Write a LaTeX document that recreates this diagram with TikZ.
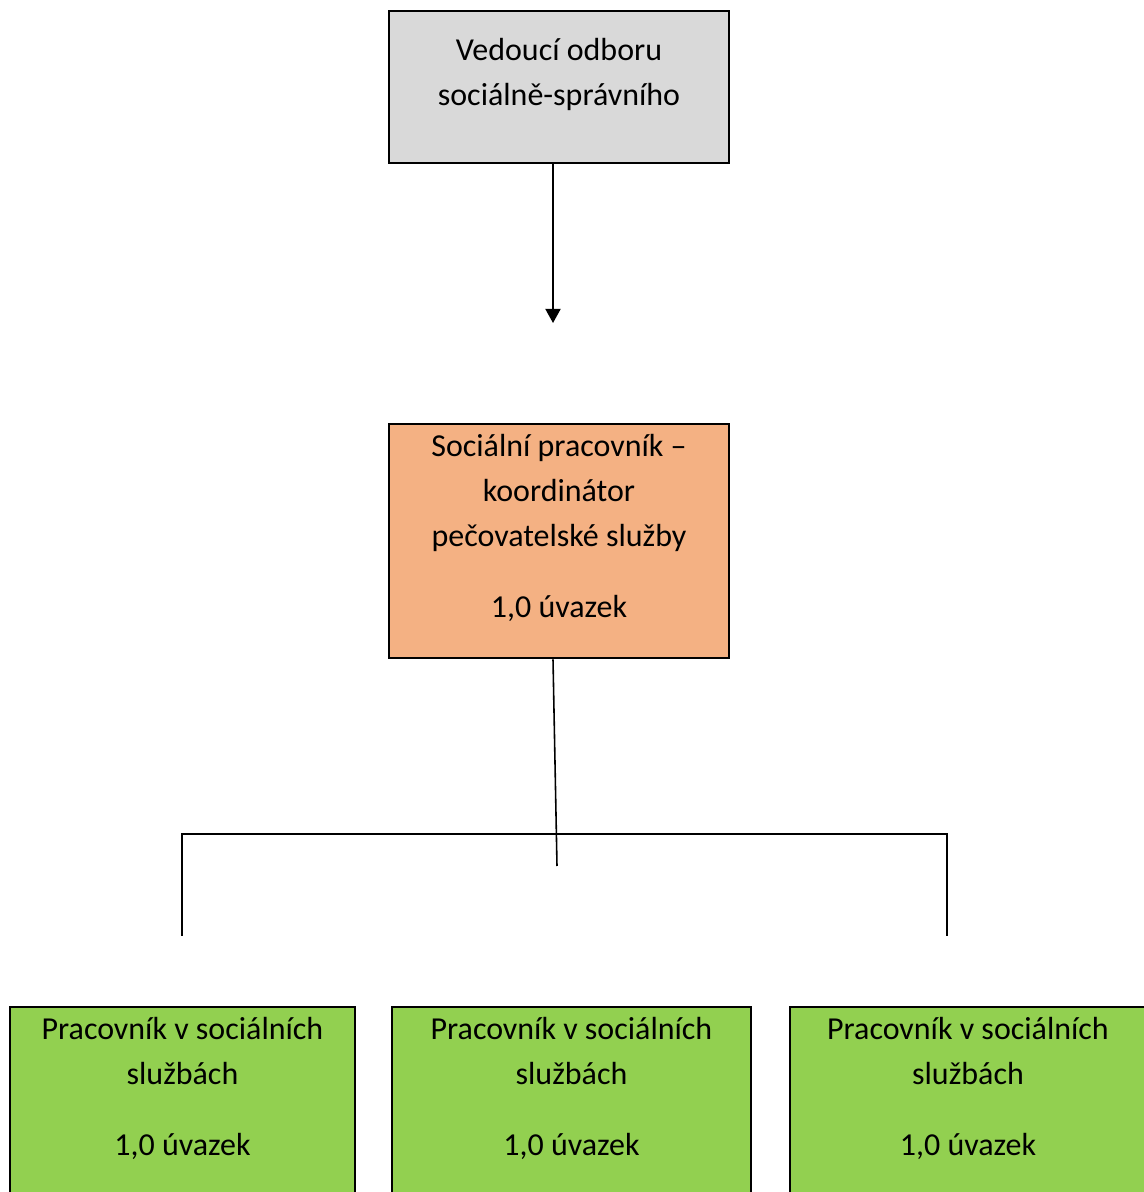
\documentclass[tikz,border=0pt]{standalone}
\usepackage{fontspec}
\setmainfont{Carlito}
\usetikzlibrary{arrows.meta}

\definecolor{headgray}{HTML}{D9D9D9}
\definecolor{coordorange}{HTML}{F4B183}
\definecolor{staffgreen}{HTML}{92D050}

\begin{document}
\begin{tikzpicture}[
    box/.style={draw=black,line width=0.75pt,rectangle,inner sep=0pt},
    txt/.style={align=center,inner sep=0pt,font=\fontsize{9.1}{12.8}\selectfont},
    wire/.style={draw=black,line width=0.45pt}]
\clip (0,0) rectangle (11.44,11.92);
            % Boxes
\node[box,fill=headgray,minimum width=3.40cm,minimum height=1.52cm] (lead) at (5.59,11.05) {};
\node[box,fill=coordorange,minimum width=3.40cm,minimum height=2.34cm] (coord) at (5.59,6.51) {};
\node[box,fill=staffgreen,minimum width=3.45cm,minimum height=1.88cm] (staffA) at (1.825,0.91) {};
\node[box,fill=staffgreen,minimum width=3.59cm,minimum height=1.88cm] (staffB) at (5.715,0.91) {};
\node[box,fill=staffgreen,minimum width=3.56cm,minimum height=1.88cm] (staffC) at (9.68,0.91) {};
            % Texts
\node[txt] (leadtxt) at ([yshift=0.13cm]lead.center) {Vedoucí odboru\\sociálně-správního};
\node[txt] (coordtxt) at ([yshift=0.13cm]coord.center) {Sociální pracovník –\\koordinátor\\pečovatelské služby\\[7.4pt]1,0 úvazek};
\foreach \s in {staffA,staffB,staffC}
  \node[txt] (\s txt) at ([yshift=0.13cm]\s.center) {Pracovník v sociálních\\službách\\[7.4pt]1,0 úvazek};
            % Connectors
\coordinate (arrowend) at (5.53,8.69);
\coordinate (stemend) at (5.57,3.26);
\coordinate (brTL) at (1.82,3.58);
\coordinate (brTR) at (9.47,3.58);
\coordinate (brL) at (1.82,2.56);
\coordinate (brR) at (9.47,2.56);
\draw[wire,-{Triangle[length=4pt,width=4.3pt]}] (lead.south -| arrowend) -- (arrowend);%E1
\draw[wire] ([xshift=-0.06cm]coord.south) -- (stemend);%E2
\draw[wire,line width=0.35pt] (brL) -- (brTL) -- (brTR) -- (brR);%Bracket

\end{tikzpicture}
\end{document}
